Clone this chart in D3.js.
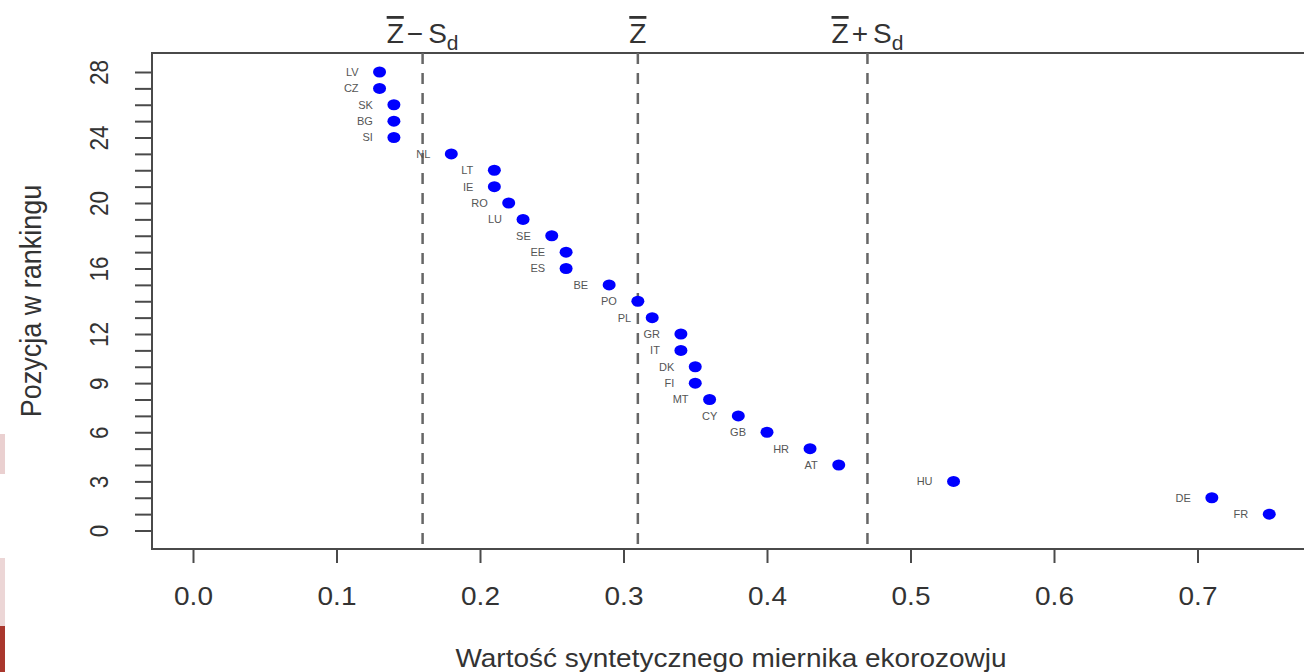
<!DOCTYPE html>
<html>
<head>
<meta charset="utf-8">
<script src="https://cdn.jsdelivr.net/npm/d3@7"></script>
<style>
  body { margin: 0; background: #fff; overflow: hidden; }
  svg { position: absolute; left: 0; top: 0; }
  .edge { position: absolute; left: 0; width: 5px; }
  text { font-family: "Liberation Sans", Arial, Helvetica, sans-serif; }
</style>
</head>
<body>
<!-- scan artefacts on the left edge of the original picture -->
<div class="edge" style="top:434px;height:40px;background:#ead0d0"></div>
<div class="edge" style="top:558px;height:68px;background:#ecd6d6"></div>
<div class="edge" style="top:626px;height:46px;background:#a9372d"></div>
<svg id="chart" width="1304" height="672"></svg>
<script>
// countries in ranking order (rank 28 at the top)
const COUNTRIES = ["LV", "CZ", "SK", "BG", "SI", "NL", "LT", "IE", "RO", "LU",
  "SE", "EE", "ES", "BE", "PO", "PL", "GR", "IT", "DK", "FI",
  "MT", "CY", "GB", "HR", "AT", "HU", "DE", "FR"];
const RANKS = [28, 27, 26, 25, 24, 23, 22, 21, 20, 19,
  18, 17, 16, 15, 14, 13, 12, 11, 10, 9,
  8, 7, 6, 5, 4, 3, 2, 1];
const VALUES = [0.13, 0.13, 0.14, 0.14, 0.14, 0.18, 0.21, 0.21, 0.22, 0.23,
  0.25, 0.26, 0.26, 0.29, 0.31, 0.32, 0.34, 0.34, 0.35, 0.35,
  0.36, 0.38, 0.40, 0.43, 0.45, 0.53, 0.71, 0.75];

// reference lines: mean - sd, mean, mean + sd
const REF_VALUES = [0.16, 0.31, 0.47];
const REF_OPS = ["\u2212", "", "+"];

const X_TICKS = [0.0, 0.1, 0.2, 0.3, 0.4, 0.5, 0.6, 0.7];
const Y_TICKS = [0, 1, 2, 3, 4, 5, 6, 7, 8, 9, 10, 11, 12, 13, 14,
  15, 16, 17, 18, 19, 20, 21, 22, 23, 24, 25, 26, 27, 28];
const Y_TICK_LABELS = [0, 3, 6, 9, 12, 16, 20, 24, 28];

const X_TITLE = "Wartość syntetycznego miernika ekorozowju";
const Y_TITLE = "Pozycja w rankingu";

const data = COUNTRIES.map((c, i) => ({name: c, rank: RANKS[i], value: VALUES[i]}));

const box = {left: 152, top: 53, right: 1310, bottom: 549};
const axisColor = "#4a4a4a";
const textColor = "#333";
const squash = "scale(1,0.9)";

const svg = d3.select("#chart");

const xScale = d3.scaleLinear()
  .domain([0, 0.7])
  .range([193, 1197.5]);

const yScale = d3.scaleLinear()
  .domain([0, 28])
  .range([530.5, 72]);

// plot frame (right edge falls outside the picture)
svg.append("rect")
  .attr("x", box.left)
  .attr("y", box.top)
  .attr("width", box.right - box.left)
  .attr("height", box.bottom - box.top)
  .attr("fill", "none")
  .attr("stroke", axisColor)
  .attr("stroke-width", 2);

// x axis
const xAxis = svg.append("g")
  .attr("transform", `translate(0, ${box.bottom})`)
  .call(d3.axisBottom(xScale)
    .tickValues(X_TICKS)
    .tickSize(14)
    .tickFormat(d3.format(".1f")));
xAxis.select(".domain").remove();
xAxis.selectAll("line").attr("stroke", axisColor).attr("stroke-width", 2);
xAxis.selectAll("text")
  .attr("y", 0)
  .attr("dy", 0)
  .attr("transform", `translate(0, 56) ${squash}`)
  .attr("fill", textColor)
  .style("font-size", "28px");

// y axis
const yAxis = svg.append("g")
  .attr("transform", `translate(${box.left}, 0)`)
  .call(d3.axisLeft(yScale)
    .tickValues(Y_TICKS)
    .tickSize(17)
    .tickFormat(d => Y_TICK_LABELS.includes(d) ? d : ""));
yAxis.select(".domain").remove();
yAxis.selectAll("line").attr("stroke", axisColor).attr("stroke-width", 2);
yAxis.selectAll("text")
  .attr("x", 0)
  .attr("dy", 0)
  .attr("text-anchor", "middle")
  .attr("transform", `translate(-44, 0) ${squash} rotate(-90)`)
  .attr("fill", textColor)
  .style("font-size", "25px");

// axis titles
svg.append("text")
  .attr("transform", `translate(${(box.left + box.right) / 2}, 667) ${squash}`)
  .attr("text-anchor", "middle")
  .attr("fill", textColor)
  .style("font-size", "28px")
  .text(X_TITLE);

svg.append("text")
  .attr("transform", `translate(41, ${(box.top + box.bottom) / 2}) ${squash} rotate(-90)`)
  .attr("text-anchor", "middle")
  .attr("fill", textColor)
  .style("font-size", "30px")
  .text(Y_TITLE);

// dashed reference lines
svg.selectAll(".ref")
  .data(REF_VALUES)
  .enter()
  .append("line")
  .attr("class", "ref")
  .attr("x1", d => xScale(d))
  .attr("x2", d => xScale(d))
  .attr("y1", box.top)
  .attr("y2", box.bottom)
  .attr("stroke", "#666")
  .attr("stroke-width", 2.5)
  .attr("stroke-dasharray", "11,9");

// labels above the reference lines: Z-bar, Z-bar - Sd, Z-bar + Sd
REF_VALUES.forEach((v, i) => {
  const t = svg.append("text")
    .attr("x", xScale(v))
    .attr("y", 43)
    .attr("text-anchor", "middle")
    .attr("fill", textColor)
    .style("font-size", "28px");
  t.append("tspan")
    .style("text-decoration", "overline")
    .text("Z");
  if (REF_OPS[i]) {
    t.append("tspan").attr("dx", 3).text(REF_OPS[i]);
    t.append("tspan").attr("dx", 5).text("S");
    t.append("tspan")
      .attr("dy", 7)
      .style("font-size", "21px")
      .text("d");
  }
});

// points
svg.selectAll(".pt")
  .data(data)
  .enter()
  .append("ellipse")
  .attr("class", "pt")
  .attr("cx", d => xScale(d.value))
  .attr("cy", d => yScale(d.rank))
  .attr("rx", 6.5)
  .attr("ry", 5.5)
  .attr("fill", "#0000ff");

// country labels to the left of the points
svg.selectAll(".lbl")
  .data(data)
  .enter()
  .append("text")
  .attr("class", "lbl")
  .attr("x", d => xScale(d.value) - 21)
  .attr("y", d => yScale(d.rank))
  .attr("dy", "0.36em")
  .attr("text-anchor", "end")
  .attr("fill", "#555")
  .style("font-size", "11px")
  .text(d => d.name);
</script>
</body>
</html>
